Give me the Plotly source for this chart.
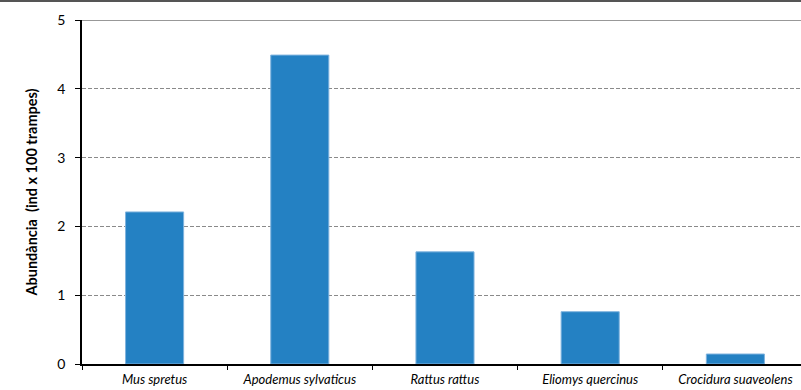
import plotly.graph_objects as go

species = ["Mus spretus", "Apodemus sylvaticus", "Rattus rattus", "Eliomys quercinus", "Crocidura suaveolens"]
abundance = [2.21, 4.49, 1.63, 0.76, 0.145]
y_ticks = [0, 1, 2, 3, 4, 5]

fig = go.Figure()
fig.add_trace(go.Bar(
    x=species, y=abundance, width=0.4,
    marker=dict(color="#2481C3", line=dict(color="#7FB3DE", width=1)),
))

H0, H1 = 364, 20
fig.update_layout(
    width=801, height=390,
    margin=dict(l=82, r=0, t=H1, b=390 - H0),
    plot_bgcolor="white", paper_bgcolor="white",
    showlegend=False,
    font=dict(family="Lato, Open Sans, sans-serif", color="#000"),
    xaxis=dict(
        type="category", range=[-0.5, 4.452],
        tickson="boundaries", ticks="outside", ticklen=4, tickcolor="#000",
        showline=True, linecolor="#000", linewidth=1.5,
        tickfont=dict(size=13, style="italic"), ticklabelstandoff=3,
        showgrid=False,
    ),
    yaxis=dict(
        range=[0, 5], tickvals=y_ticks,
        ticks="outside", ticklen=5, tickcolor="#000",
        showline=True, linecolor="#000", linewidth=1.5,
        tickfont=dict(size=14), ticklabelstandoff=7,
        showgrid=True, gridcolor="#8a8a8a", griddash="4px,2px", gridwidth=1,
        zeroline=False,
        title=dict(text="<b>Abundància  (ind x 100 trampes)</b>", font=dict(size=14.5), standoff=16),
    ),
)
# top frame line at y=5 (solid)
fig.add_shape(type="line", xref="paper", yref="y", x0=0, x1=1, y0=5, y1=5,
              line=dict(color="#333", width=1.2))
# top border of the picture
fig.add_shape(type="line", xref="paper", yref="paper", x0=-0.2, x1=1.1,
              y0=(H0 - 1) / (H0 - H1), y1=(H0 - 1) / (H0 - H1),
              line=dict(color="#555", width=2))
fig.write_html(
    "out.html",
    config={"displayModeBar": False},
    post_script="document.body.style.margin='0';document.body.style.overflow='hidden';",
)
